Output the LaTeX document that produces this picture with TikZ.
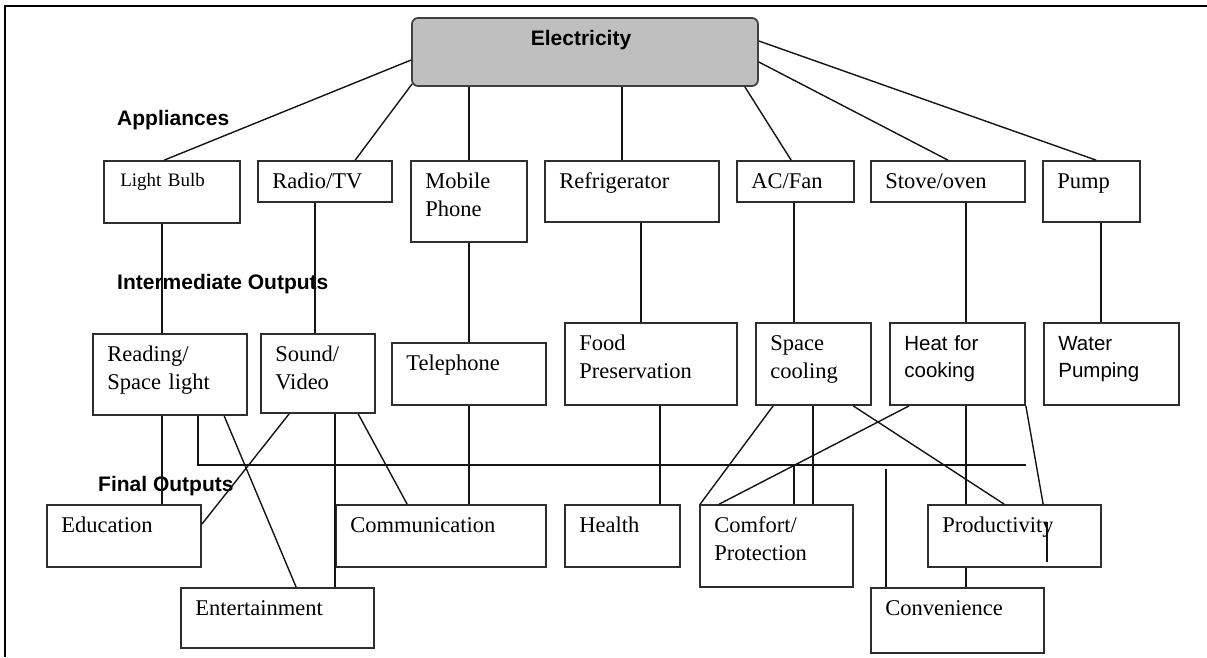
\documentclass[tikz,border=0pt]{standalone}
\usepackage{fontspec}
\setmainfont{Liberation Serif}
\newfontfamily\arial{Liberation Sans}
\usetikzlibrary{fit,calc}
\tikzset{
  bx/.style={draw=black!82, line width=1.7pt, inner sep=0pt},
  ln/.style={draw=black!92, line width=1.4pt},
  tx/.style={anchor=base west, inner sep=0pt, align=left, text width=230pt,
    font=\fontsize{22.5}{28}\selectfont},
  sx/.style={tx, font=\arial\fontsize{20.5}{27}\selectfont},
  lbl/.style={inner sep=0pt, font=\arial\bfseries\fontsize{21}{24}\selectfont},
}
\newcommand\mybox[6]{%
  \node[bx, fit={(#2,#3) (#4,#5)}] (#1) {};
  \node[tx] (#1-t) at ([shift={(15pt,-28pt)}]#1.north west) {#6};}
\newcommand\myboxs[6]{%
  \node[bx, fit={(#2,#3) (#4,#5)}] (#1) {};
  \node[sx] (#1-t) at ([shift={(15pt,-28pt)}]#1.north west) {#6};}
\begin{document}
\begin{tikzpicture}[x=1pt,y=-1pt]
\useasboundingbox (0,0) rectangle (1207,657);
% frame
\draw[line width=2.6pt] (5,657) -- (5,6) -- (1207,6);

% labels
\node[lbl, anchor=base west] (appl) at (117,125) {Appliances};
\node[lbl, anchor=base west] (inter) at (117,289) {Intermediate Outputs};
\node[lbl, anchor=base west] (final) at (98,491) {Final Outputs};

% electricity
\node[draw=black!75, fill=black!25, line width=1.7pt, rounded corners=6pt, inner sep=0pt,
      fit={(412,18) (758,86)}] (elec) {};
\node[lbl, anchor=base] (elec-t) at (581,45) {Electricity};

% appliances
\node[bx, fit={(104,161) (240,223)}] (lb) {};
\node[tx, font=\fontsize{19}{24}\selectfont] (lb-t) at ([shift={(17pt,-26pt)}]lb.north west) {Light Bulb};
\mybox{radio}{258}{161}{392}{202}{Radio/TV}
\mybox{mobile}{411}{161}{527}{242}{Mobile\\Phone}
\mybox{fridge}{545}{161}{719}{222}{Refrigerator}
\mybox{acfan}{737}{161}{854}{202}{AC/Fan}
\mybox{stove}{871}{161}{1025}{202}{Stove/oven}
\mybox{pump}{1043}{161}{1140}{222}{Pump}

% intermediate
\mybox{read}{93}{334}{247}{415}{Reading/\\Space light}
\mybox{sound}{261}{334}{375}{413}{Sound/\\Video}
\mybox{tel}{392}{343}{546}{405}{Telephone}
\mybox{food}{565}{323}{737}{405}{Food\\Preservation}
\mybox{space}{756}{323}{871}{405}{Space\\cooling}
\myboxs{heat}{890}{323}{1025}{405}{Heat for\\cooking}
\myboxs{water}{1044}{323}{1179}{405}{Water\\Pumping}

% final
\mybox{edu}{47}{505}{201}{567}{Education}
\mybox{comm}{336}{505}{546}{567}{Communication}
\mybox{health}{565}{505}{680}{567}{Health}
\mybox{comfort}{700}{505}{853}{587}{Comfort/\\Protection}
\mybox{prod}{928}{505}{1101}{567}{Productivity}
\mybox{ent}{181}{588}{374}{648}{Entertainment}
\mybox{conv}{871}{588}{1044}{653}{Convenience}

% electricity to appliances
\draw[ln] ([yshift=-8pt]elec.west) -- ([xshift=61pt]lb.north west);
\draw[ln] ([shift={(1pt,3pt)}]elec.south west) -- ([xshift=98pt]radio.north west);
\draw[ln] (elec.south -| mobile.north) -- (mobile.north);
\coordinate (f1) at ([xshift=-10pt]fridge.north);
\draw[ln] (f1 |- elec.south) -- (f1);
\draw[ln] ([xshift=-14pt]elec.south east) -- ([xshift=55pt]acfan.north west);
\draw[ln] ([yshift=-10pt]elec.east) -- (stove.north);
\draw[ln] ([yshift=11pt]elec.east) -- ([xshift=54pt]pump.north west);

% appliances to intermediate
\coordinate (a1) at ([xshift=59pt]lb.south west);
\draw[ln] (a1) -- (a1 |- read.north);
\coordinate (a2) at ([xshift=58pt]radio.south west);
\draw[ln] (a2) -- (a2 |- sound.north);
\draw[ln] (mobile.south) -- (mobile.south |- tel.north);
\coordinate (a4) at ([xshift=97pt]fridge.south west);
\draw[ln] (a4) -- (a4 |- food.north);
\coordinate (a5) at ([xshift=58pt]acfan.south west);
\draw[ln] (a5) -- (a5 |- space.north);
\coordinate (a6) at ([xshift=96pt]stove.south west);
\draw[ln] (a6) -- (a6 |- heat.north);
\coordinate (a7) at ([xshift=59pt]pump.south west);
\draw[ln] (a7) -- (a7 |- water.north);

% intermediate to final
\coordinate (hend) at ([yshift=-59pt]heat.south east);
\coordinate (r1) at ([xshift=70pt]read.south west);
\draw[ln] (r1) -- (r1 |- edu.north);
\coordinate (r2) at ([xshift=106pt]read.south west);
\draw[ln] (r2) -- (r2 |- hend) -- (hend);
\coordinate (r3) at ([xshift=132pt]read.south west);
\draw[ln] (r3) -- ([xshift=116pt]ent.north west);
\coordinate (s1) at ([xshift=29pt]sound.south west);
\draw[ln] (s1) -- ([yshift=-20pt]edu.north east);
\coordinate (s2) at ([xshift=75pt]sound.south west);
\draw[ln] (s2) -- (s2 |- ent.north);
\coordinate (s3) at ([xshift=98pt]sound.south west);
\draw[ln] (s3) -- ([xshift=72pt]comm.north west);
\draw[ln] (tel.south) -- (tel.south |- comm.north);
\coordinate (fd) at ([xshift=96pt]food.south west);
\draw[ln] (fd) -- (fd |- health.north);
\coordinate (sp1) at ([xshift=18pt]space.south west);
\draw[ln] (sp1) -- ([xshift=1pt]comfort.north west);
\coordinate (sp2) at ([xshift=58pt]space.south west);
\draw[ln] (sp2) -- (sp2 |- comfort.north);
\coordinate (sp3) at ([xshift=98pt]space.south west);
\draw[ln] (sp3) -- ([xshift=77pt]prod.north west);
\coordinate (h1) at ([xshift=20pt]heat.south west);
\draw[ln] (h1) -- ([xshift=20pt]comfort.north west);
\coordinate (c795) at ([xshift=39pt]space.south west);
\draw[ln] (c795 |- hend) -- (c795 |- comfort.north);
\coordinate (h2) at ([xshift=77pt]heat.south west);
\draw[ln] (h2) -- (h2 |- prod.north);
\draw[ln] (heat.south east) -- ([xshift=116pt]prod.north west);
\coordinate (cv) at ([xshift=16pt]conv.north west);
\coordinate (cvt) at ([yshift=-4pt]cv |- hend);
\draw[ln] (cvt) -- (cv);
\coordinate (p1) at ([xshift=39pt]prod.south west);
\draw[ln] (p1) -- (p1 |- conv.north);
\coordinate (tk1) at ([shift={(120pt,-18pt)}]prod.north west);
\coordinate (tk2) at ([shift={(120pt,-58pt)}]prod.north west);
\draw[ln] (tk1) -- (tk2);
\end{tikzpicture}
\end{document}
